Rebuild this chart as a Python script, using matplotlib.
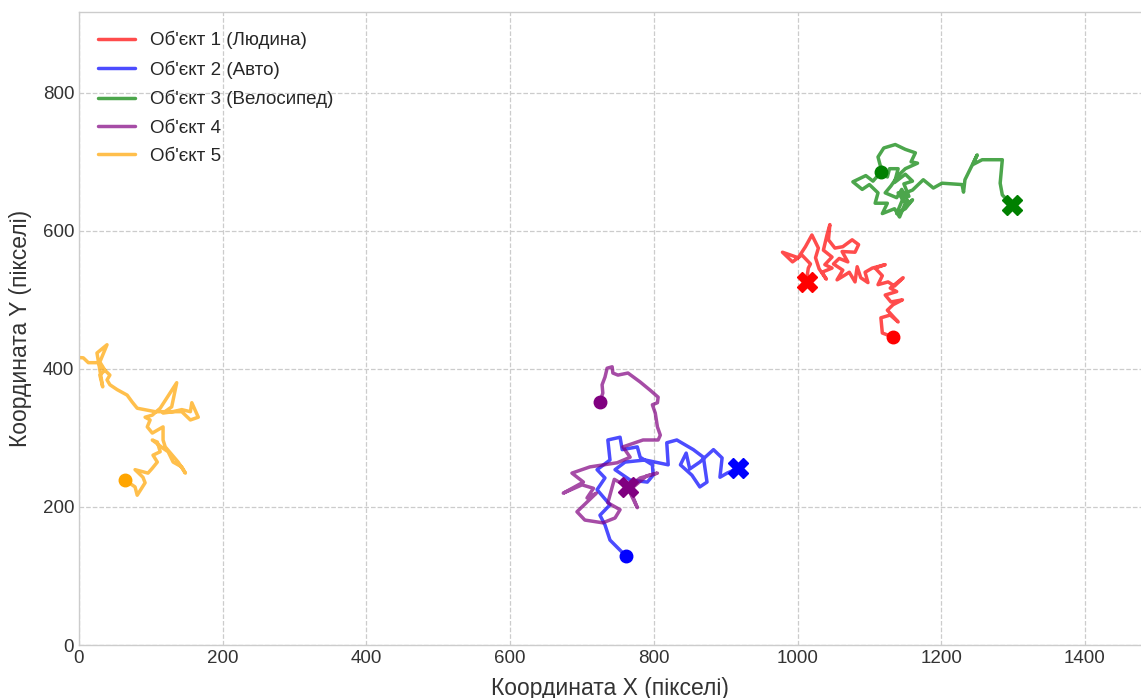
import matplotlib
matplotlib.use("Agg")
import matplotlib.pyplot as plt
import numpy as np

# траєкторії об'єктів (x, y у пікселях кадру)
obj1_x = [1133, 1118, 1116, 1129, 1140, 1125, 1133, 1146, 1130, 1122, 1138, 1129, 1147, 1135, 1126,
          1112, 1118, 1108, 1122, 1104, 1094, 1098, 1088, 1083, 1080, 1072, 1066, 1055, 1063, 1050,
          1058, 1070, 1062, 1080, 1085, 1076, 1063, 1052, 1043, 1045, 1041, 1036, 1048, 1038, 1048,
          1034, 1040, 1030, 1025, 1029, 1020, 1011, 1001, 979, 993, 1006, 1018, 1015, 1013, 1013]
obj1_y = [446, 452, 474, 478, 468, 485, 493, 500, 497, 507, 512, 517, 532, 520, 526,
          522, 535, 546, 551, 546, 540, 525, 532, 548, 526, 540, 536, 529, 543, 552,
          560, 555, 570, 569, 580, 587, 577, 575, 587, 609, 594, 572, 562, 551, 546,
          540, 530, 545, 561, 575, 594, 577, 561, 569, 555, 565, 552, 546, 532, 526]

obj2_x = [761, 739, 732, 725, 739, 721, 732, 721, 739, 736, 753, 756, 777, 781, 798, 799, 791,
          767, 746, 760, 788, 820, 818, 832, 855, 869, 874, 864, 853, 837, 845, 850, 864, 883,
          895, 892, 902, 917]
obj2_y = [129, 152, 174, 188, 203, 225, 242, 254, 268, 297, 301, 283, 287, 272, 261, 246, 236,
          239, 254, 265, 268, 261, 293, 297, 283, 272, 236, 229, 246, 261, 278, 255, 265, 283,
          271, 243, 249, 256]

obj3_x = [1116, 1105, 1095, 1077, 1090, 1100, 1112, 1108, 1125, 1118, 1135, 1142, 1150, 1140,
          1155, 1148, 1160, 1150, 1135, 1140, 1128, 1125, 1115, 1112, 1120, 1136, 1150, 1164,
          1158, 1167, 1150, 1140, 1130, 1122, 1138, 1145, 1155, 1160, 1150, 1138, 1150, 1160,
          1175, 1189, 1201, 1229, 1231, 1233, 1250, 1244, 1257, 1285, 1282, 1285, 1298]
obj3_y = [685, 672, 680, 671, 660, 667, 655, 640, 640, 625, 632, 620, 640, 655,
          650, 668, 672, 682, 670, 690, 690, 678, 695, 707, 720, 725, 718, 713,
          700, 698, 690, 680, 665, 655, 648, 660, 640, 645, 632, 625, 655, 659,
          674, 662, 669, 667, 656, 674, 710, 696, 703, 703, 669, 652, 638]

obj4_x = [725, 729, 728, 732, 735, 742, 743, 750, 764, 781, 795, 806, 805, 798, 802, 805, 809,
          806, 785, 757, 767, 749, 711, 686, 702, 674, 700, 716, 707, 720, 693, 704, 729, 746,
          753, 736, 745, 763, 777, 767, 790, 805, 781, 764]
obj4_y = [352, 365, 377, 388, 401, 403, 394, 391, 394, 381, 369, 359, 351, 348, 336, 316, 304,
          297, 297, 287, 272, 264, 258, 249, 236, 220, 232, 227, 213, 220, 193, 181, 177, 184,
          196, 206, 240, 229, 199, 225, 245, 249, 242, 229]

obj5_x = [64, 78, 81, 92, 89, 78, 96, 102, 109, 103, 113, 109, 102, 117, 124, 131, 143, 148, 138,
          120, 117, 117, 102, 95, 99, 92, 102, 113, 136, 129, 117, 131, 143, 155, 157, 166, 155,
          143, 106, 81, 74, 67, 53, 43, 39, 43, 36, 29, 39, 25, 33, 29, 36, 26, 13, 6, -20]
obj5_y = [239, 229, 217, 235, 243, 254, 249, 256, 265, 275, 280, 294, 297, 285, 280, 265, 258,
          249, 265, 287, 297, 316, 307, 316, 326, 330, 333, 343, 380, 345, 336, 338, 341, 338,
          351, 330, 326, 338, 338, 343, 352, 362, 370, 377, 384, 391, 398, 410, 435, 423, 374,
          391, 398, 409, 409, 416, 418]

labels = ["Об'єкт 1 (Людина)", "Об'єкт 2 (Авто)", "Об'єкт 3 (Велосипед)", "Об'єкт 4", "Об'єкт 5"]
colors = ["red", "blue", "green", "purple", "orange"]
tracks = [(obj1_x, obj1_y), (obj2_x, obj2_y), (obj3_x, obj3_y), (obj4_x, obj4_y), (obj5_x, obj5_y)]

plt.style.use("seaborn-v0_8-whitegrid")
plt.rcParams["font.family"] = ["Liberation Sans", "DejaVu Sans"]

fig = plt.figure(figsize=(11.41, 6.98), dpi=100)
ax = fig.add_axes([79 / 1141, 53 / 698, 1062 / 1141, 633 / 698])

for (x, y), c, lab in zip(tracks, colors, labels):
    ax.plot(x, y, color=c, lw=2.5, alpha=0.7, label=lab)
    ax.plot(x[0], y[0], "o", color=c, ms=9)
    ax.plot(x[-1], y[-1], "X", color=c, ms=14)

ax.set_xlim(0, 1478)
ax.set_ylim(0, 917)
ax.grid(True, ls="--", color="#cccccc", lw=0.9)
ax.spines["right"].set_visible(False)
for s in ["left", "bottom", "top"]:
    ax.spines[s].set_color("#cccccc")
ax.tick_params(labelsize=13.5, colors="#333333")
ax.set_xlabel("Координата X (пікселі)", fontsize=16.5, color="#333333", labelpad=7)
ax.set_ylabel("Координата Y (пікселі)", fontsize=16.5, color="#333333", labelpad=8)
ax.legend(loc="upper left", fontsize=13.5, frameon=False, labelspacing=0.6,
          borderaxespad=0.6)

fig.savefig("out.png", dpi=100)
